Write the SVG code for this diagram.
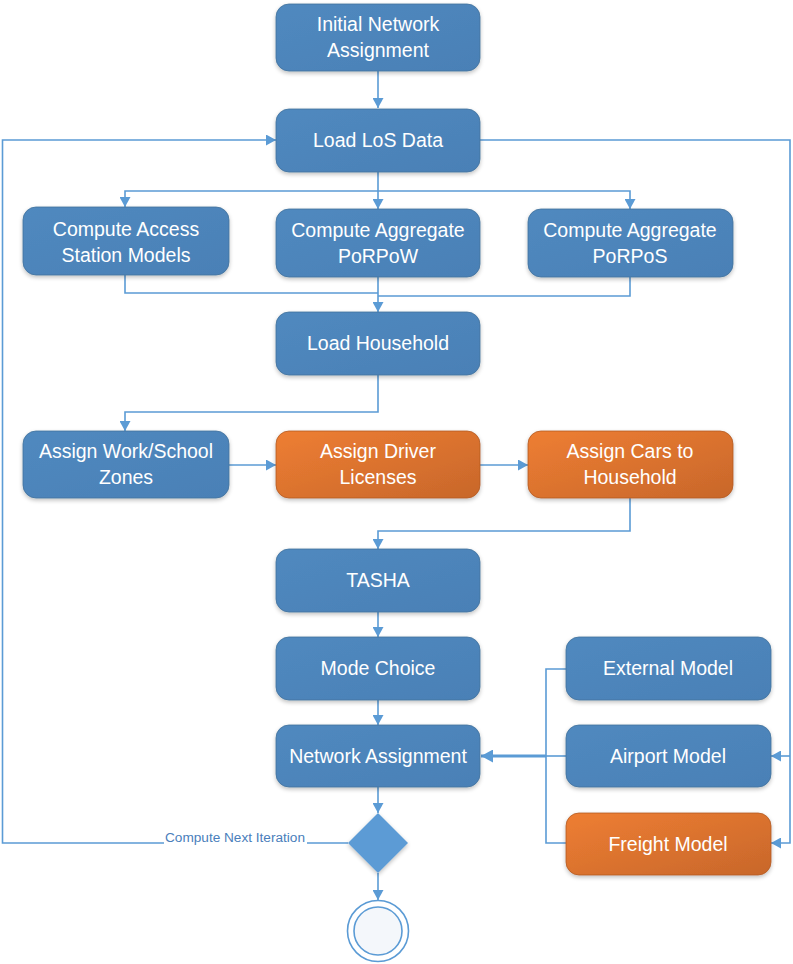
<svg xmlns="http://www.w3.org/2000/svg" width="793" height="964" viewBox="0 0 793 964">
<defs>
<linearGradient id="gBlue" x1="0" y1="0" x2="1" y2="1">
<stop offset="0" stop-color="#5089BF"/>
<stop offset="1" stop-color="#4A80B6"/>
</linearGradient>
<linearGradient id="gOrange" x1="0" y1="0" x2="1" y2="1">
<stop offset="0" stop-color="#EE7E32"/>
<stop offset="1" stop-color="#C8672B"/>
</linearGradient>
<filter id="sh" x="-10%" y="-10%" width="120%" height="130%">
<feGaussianBlur in="SourceAlpha" stdDeviation="2"/>
<feOffset dx="0" dy="2" result="b"/>
<feComponentTransfer><feFuncA type="linear" slope="0.25"/></feComponentTransfer>
<feMerge><feMergeNode/><feMergeNode in="SourceGraphic"/></feMerge>
</filter>
<marker id="arr" markerUnits="userSpaceOnUse" markerWidth="11" markerHeight="11" refX="10" refY="5.5" orient="auto">
<path d="M0,0 L10,5.5 L0,11 z" fill="#5B9BD5"/>
</marker>
<marker id="arrBig" markerUnits="userSpaceOnUse" markerWidth="13" markerHeight="13" refX="12" refY="6.5" orient="auto">
<path d="M0,0 L12,6.5 L0,13 z" fill="#5B9BD5"/>
</marker>
</defs>
<style>
.b{fill:url(#gBlue);stroke:#41719C;stroke-width:0.8;filter:url(#sh)}
.o{fill:url(#gOrange);stroke:#B25A22;stroke-width:0.8;filter:url(#sh)}
.t{font-family:"Liberation Sans",Arial,sans-serif;font-size:19.5px;fill:#FFFFFF;text-anchor:middle}
.c{fill:none;stroke:#5B9BD5;stroke-width:1.6}
.a{marker-end:url(#arr)}
.lbl{font-family:"Liberation Sans",Arial,sans-serif;font-size:12px;fill:#4A7EBB}
</style>
<rect width="793" height="964" fill="#FFFFFF"/>

<g id="connectors">
<path class="c a" d="M378,71 V108"/>
<path class="c" d="M378,172 V191"/>
<path class="c a" d="M378,191 H125 V207"/>
<path class="c a" d="M378,191 V209"/>
<path class="c a" d="M378,191 H630 V209"/>
<path class="c" d="M125,275 V293 H378"/>
<path class="c" d="M630,277 V296 H378"/>
<path class="c a" d="M378,277 V312"/>
<path class="c a" d="M378,375 V412 H125 V431"/>
<path class="c a" d="M229,465 H276"/>
<path class="c a" d="M480,465 H528"/>
<path class="c a" d="M630,498 V531 H378 V549"/>
<path class="c a" d="M378,612 V637"/>
<path class="c a" d="M378,700 V725"/>
<path class="c" d="M566,669 H546 V843 H566"/>
<path class="c" d="M566,756 H546"/>
<path d="M546,756 H481" fill="none" stroke="#5B9BD5" stroke-width="3" marker-end="url(#arrBig)"/>
<path class="c a" d="M480,140 H790 V843 H771"/>
<path class="c a" d="M790,756 H771"/>
<path class="c a" d="M378,787 V813"/>
<path class="c a" d="M378,873 V900"/>
<path class="c a" d="M348,843 H2.5 V140 H276"/>
<rect x="164" y="830" width="143" height="15" fill="#FFFFFF"/>
<text class="lbl" x="165" y="842" textLength="140" lengthAdjust="spacingAndGlyphs">Compute Next Iteration</text>
</g>

<g id="initial-network-assignment">
<rect class="b" x="276" y="4" width="204" height="67" rx="13"/>
<text class="t" x="378" y="31">Initial Network</text>
<text class="t" x="378" y="57">Assignment</text>
</g>
<g id="load-los-data">
<rect class="b" x="276" y="109" width="204" height="63" rx="13"/>
<text class="t" x="378" y="147">Load LoS Data</text>
</g>
<g id="compute-access-station-models">
<rect class="b" x="23" y="207" width="206" height="68" rx="13"/>
<text class="t" x="126" y="236">Compute Access</text>
<text class="t" x="126" y="262">Station Models</text>
</g>
<g id="compute-aggregate-porpow">
<rect class="b" x="276" y="209" width="204" height="68" rx="13"/>
<text class="t" x="378" y="237">Compute Aggregate</text>
<text class="t" x="378" y="263">PoRPoW</text>
</g>
<g id="compute-aggregate-porpos">
<rect class="b" x="528" y="209" width="205" height="68" rx="13"/>
<text class="t" x="630" y="237">Compute Aggregate</text>
<text class="t" x="630" y="263">PoRPoS</text>
</g>
<g id="load-household">
<rect class="b" x="276" y="312" width="204" height="63" rx="13"/>
<text class="t" x="378" y="350">Load Household</text>
</g>
<g id="assign-work-school-zones">
<rect class="b" x="23" y="431" width="206" height="67" rx="13"/>
<text class="t" x="126" y="458">Assign Work/School</text>
<text class="t" x="126" y="484">Zones</text>
</g>
<g id="assign-driver-licenses">
<rect class="o" x="276" y="431" width="204" height="67" rx="13"/>
<text class="t" x="378" y="458">Assign Driver</text>
<text class="t" x="378" y="484">Licenses</text>
</g>
<g id="assign-cars-to-household">
<rect class="o" x="528" y="431" width="205" height="67" rx="13"/>
<text class="t" x="630" y="458">Assign Cars to</text>
<text class="t" x="630" y="484">Household</text>
</g>
<g id="tasha">
<rect class="b" x="276" y="549" width="204" height="63" rx="13"/>
<text class="t" x="378" y="587">TASHA</text>
</g>
<g id="mode-choice">
<rect class="b" x="276" y="637" width="204" height="63" rx="13"/>
<text class="t" x="378" y="675">Mode Choice</text>
</g>
<g id="network-assignment">
<rect class="b" x="276" y="725" width="204" height="62" rx="13"/>
<text class="t" x="378" y="763">Network Assignment</text>
</g>
<g id="external-model">
<rect class="b" x="566" y="637" width="205" height="63" rx="13"/>
<text class="t" x="668" y="675">External Model</text>
</g>
<g id="airport-model">
<rect class="b" x="566" y="725" width="205" height="62" rx="13"/>
<text class="t" x="668" y="763">Airport Model</text>
</g>
<g id="freight-model">
<rect class="o" x="566" y="813" width="205" height="62" rx="13"/>
<text class="t" x="668" y="851">Freight Model</text>
</g>
<g id="decision">
<polygon points="378,813 408,843 378,873 348,843" fill="#5B9BD5" filter="url(#sh)"/>
</g>
<g id="final-node">
<circle cx="378" cy="931" r="30.5" fill="#FFFFFF" stroke="#5B9BD5" stroke-width="1.6"/>
<circle cx="378" cy="931" r="24" fill="#F4F7FB" stroke="#5B9BD5" stroke-width="1.6"/>
</g>
</svg>
